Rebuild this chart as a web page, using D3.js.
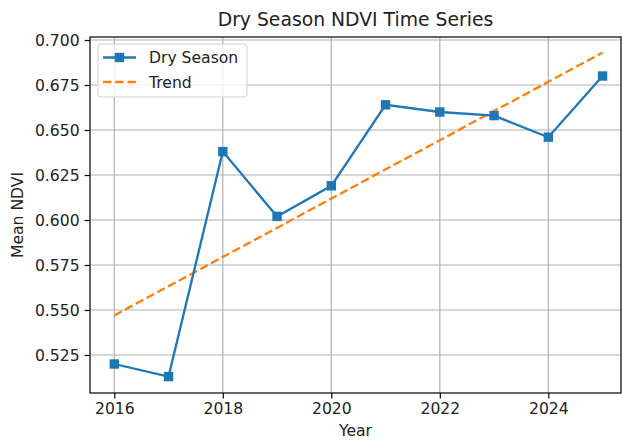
<!DOCTYPE html>
<html>
<head>
<meta charset="utf-8">
<script src="https://cdn.jsdelivr.net/npm/d3@7"></script>
<style>
  body { margin: 0; background: #fff; }
  svg { display: block; font-family: "DejaVu Sans", sans-serif; }
</style>
</head>
<body>
<svg id="chart" width="623" height="441"></svg>
<script>
const years = [2016, 2017, 2018, 2019, 2020, 2021, 2022, 2023, 2024, 2025];
const drySeason = [0.520, 0.513, 0.638, 0.602, 0.619, 0.664, 0.660, 0.658, 0.646, 0.680];
const trendYears = [2016, 2025];
const trendValues = [0.547, 0.693];
const xTicks = [2016, 2018, 2020, 2022, 2024];
const yTicks = [0.525, 0.550, 0.575, 0.600, 0.625, 0.650, 0.675, 0.700];
const seriesNames = ["Dry Season", "Trend"];

(function () {
const svg = d3.select("#chart");
const pL = 90, pR = 621, pT = 37, pB = 393;
const fs = 15.6, lw = 2.3, dash = "8.5,3.7";

const x = d3.scaleLinear().domain([2015.552, 2025.34]).range([pL, pR]);
const y = d3.scaleLinear().domain([0.50389, 0.70167]).range([pB, pT]);

// grid
const grid = svg.append("g");
grid.selectAll("line.gx").data(xTicks).enter().append("line")
  .attr("x1", d => x(d)).attr("x2", d => x(d))
  .attr("y1", pT).attr("y2", pB)
  .attr("stroke", "#b0b0b0").attr("stroke-width", 1.2);
grid.selectAll("line.gy").data(yTicks).enter().append("line")
  .attr("x1", pL).attr("x2", pR)
  .attr("y1", d => y(d)).attr("y2", d => y(d))
  .attr("stroke", "#b0b0b0").attr("stroke-width", 1.2);

// trend
const line = d3.line().x(d => x(d[0])).y(d => y(d[1]));
svg.append("path")
  .datum(trendYears.map((t, i) => [t, trendValues[i]]))
  .attr("d", line)
  .attr("fill", "none").attr("stroke", "#ff7f0e").attr("stroke-width", lw)
  .attr("stroke-dasharray", dash);

// series
const pts = years.map((t, i) => [t, drySeason[i]]);
svg.append("path").datum(pts).attr("d", line)
  .attr("fill", "none").attr("stroke", "#1f77b4").attr("stroke-width", lw);
const ms = 9.4;
svg.selectAll("rect.m").data(pts).enter().append("rect")
  .attr("x", d => x(d[0]) - ms / 2).attr("y", d => y(d[1]) - ms / 2)
  .attr("width", ms).attr("height", ms).attr("fill", "#1f77b4");

// axes
const xAxis = d3.axisBottom(x).tickValues(xTicks).tickFormat(d3.format("d")).tickSize(5.4).tickPadding(5);
const yAxis = d3.axisLeft(y).tickValues(yTicks).tickFormat(d3.format(".3f")).tickSize(5.4).tickPadding(5);
const gx = svg.append("g").attr("transform", `translate(0,${pB})`).call(xAxis);
const gy = svg.append("g").attr("transform", `translate(${pL},0)`).call(yAxis);
[gx, gy].forEach(g => {
  g.select(".domain").remove();
  g.selectAll(".tick line").attr("stroke", "#000").attr("stroke-width", 1.2);
  g.selectAll(".tick text").attr("fill", "#222").style("font-size", fs + "px").style("font-family", "DejaVu Sans");
});

// spines
svg.append("rect").attr("x", pL).attr("y", pT).attr("width", pR - pL).attr("height", pB - pT)
  .attr("fill", "none").attr("stroke", "#000").attr("stroke-width", 1.2);

// title & labels
svg.append("text").attr("x", (pL + pR) / 2).attr("y", 26).attr("text-anchor", "middle")
  .style("font-size", "18.8px").attr("fill", "#222").text("Dry Season NDVI Time Series");
svg.append("text").attr("x", (pL + pR) / 2).attr("y", 436).attr("text-anchor", "middle")
  .style("font-size", fs + "px").attr("fill", "#222").text("Year");
svg.append("text").attr("transform", `translate(23,${(pT + pB) / 2}) rotate(-90)`).attr("text-anchor", "middle")
  .style("font-size", fs + "px").attr("fill", "#222").text("Mean NDVI");

// legend
const lg = svg.append("g").attr("transform", "translate(98,44)");
lg.append("rect").attr("width", 149).attr("height", 53).attr("rx", 3)
  .attr("fill", "#fff").attr("fill-opacity", 0.8).attr("stroke", "#d0d0d0").attr("stroke-width", 1);
const entries = lg.selectAll("g.e").data(seriesNames).enter().append("g")
  .attr("transform", (d, i) => `translate(0,${13.5 + i * 24.5})`);
entries.append("line").attr("x1", 5).attr("x2", 38).attr("y1", 0).attr("y2", 0)
  .attr("stroke", (d, i) => i === 0 ? "#1f77b4" : "#ff7f0e").attr("stroke-width", lw)
  .attr("stroke-dasharray", (d, i) => i === 0 ? null : dash);
entries.filter((d, i) => i === 0).append("rect").attr("x", 21.5 - ms / 2).attr("y", -ms / 2)
  .attr("width", ms).attr("height", ms).attr("fill", "#1f77b4");
entries.append("text").attr("x", 51).attr("y", 5.5).style("font-size", fs + "px").attr("fill", "#222").text(d => d);
})();
</script>
</body>
</html>
